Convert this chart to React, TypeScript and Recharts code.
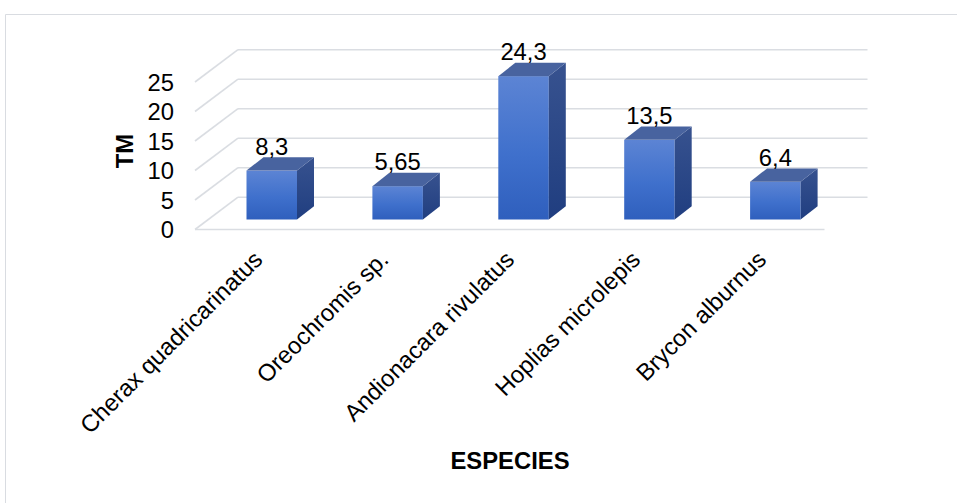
import { BarChart, Bar, XAxis, YAxis, CartesianGrid, LabelList } from "recharts";

const species = [
  "Cherax quadricarinatus",
  "Oreochromis sp.",
  "Andionacara rivulatus",
  "Hoplias microlepis",
  "Brycon alburnus",
];
const tm = [8.3, 5.65, 24.3, 13.5, 6.4];
const yTicks = [0, 5, 10, 15, 20, 25];

const data = species.map((name, i) => ({ name, tm: tm[i] }));

const FONT = "'Liberation Sans', Arial, sans-serif";
const FS = 23.8;
const GRID = "#dadde2";
// plot area: bars sit halfway into the floor
const TOP = 72;
const PLOT_H = 147.5;
const BOTTOM = TOP + PLOT_H;
// 3d offsets relative to the bar plane
const FRONT = { dx: -13.5, dy: 10 };
const BACK = { dx: 29.5, dy: -22.3 };
const DEPTH = { dx: 17, dy: -13.3 };

const fmt = (v: number) => String(v).replace(".", ",");

function gridLine(p: any) {
  const y = p.y1;
  const isFloor = Math.abs(y - BOTTOM) < 1;
  return (
    <g key={p.key ?? `g-${y}`}>
      <line x1={p.x1 + BACK.dx} y1={y + BACK.dy} x2={p.x2 + BACK.dx} y2={y + BACK.dy} stroke={GRID} strokeWidth={1.6} />
      <line x1={p.x1 + FRONT.dx} y1={y + FRONT.dy} x2={p.x1 + BACK.dx} y2={y + BACK.dy} stroke={GRID} strokeWidth={1.6} />
      {isFloor && (
        <line x1={p.x1 + FRONT.dx} y1={y + FRONT.dy} x2={p.x2 + FRONT.dx} y2={y + FRONT.dy} stroke={GRID} strokeWidth={1.6} />
      )}
    </g>
  );
}

function Box(props: any) {
  const { x, y, width, height } = props;
  const { dx, dy } = DEPTH;
  const r = x + width;
  const b = y + height;
  return (
    <g>
      <rect x={x} y={y} width={width} height={height} fill="url(#front)" />
      <polygon points={`${r},${y} ${r + dx},${y + dy} ${r + dx},${b + dy} ${r},${b}`} fill="url(#side)" />
      <polygon points={`${x},${y} ${x + dx},${y + dy} ${r + dx},${y + dy} ${r},${y}`} fill="#48639f" />
    </g>
  );
}

function YTick(props: any) {
  return (
    <text x={174} y={props.y + FRONT.dy} dy="0.36em" textAnchor="end" fontSize={FS} fontFamily={FONT} fill="#000">
      {props.payload.value}
    </text>
  );
}

function XTick(props: any) {
  const x = props.x - 7.5;
  const y = 261;
  return (
    <text x={x} y={y} textAnchor="end" transform={`rotate(-45 ${x} ${y})`} fontSize={FS} fontFamily={FONT} fill="#000">
      {props.payload.value}
    </text>
  );
}

function ValueLabel(props: any) {
  const { x, y, width, value } = props;
  return (
    <text x={x + width / 2} y={y - 16} textAnchor="middle" fontSize={FS} fontFamily={FONT} fill="#000">
      {fmt(value)}
    </text>
  );
}

export default function App() {
  return (
    <div style={{ position: "absolute", left: 0, top: 0, width: 957, height: 503, background: "#fff", overflow: "hidden" }}>
      <svg width={957} height={503} style={{ position: "absolute", left: 0, top: 0 }}>
        <line x1={5.5} y1={14.5} x2={957} y2={14.5} stroke="#d9dce1" strokeWidth={1} />
        <line x1={5.5} y1={14.5} x2={5.5} y2={503} stroke="#d9dce1" strokeWidth={1} />
        <text x={510} y={469} textAnchor="middle" fontSize={FS} fontWeight="bold" fontFamily={FONT} fill="#000">
          ESPECIES
        </text>
        <text x={133} y={151} textAnchor="middle" transform="rotate(-90 133 151)" fontSize={FS} fontWeight="bold" fontFamily={FONT} fill="#000">
          TM
        </text>
      </svg>
      <div style={{ position: "absolute", left: 0, top: 0 }}>
        <BarChart
          width={957}
          height={503}
          data={data}
          margin={{ top: TOP, right: 119, bottom: 503 - BOTTOM - 30, left: 148.5 }}
          barCategoryGap="30%"
        >
          <defs>
            <linearGradient id="front" x1="0" y1="0" x2="0" y2="1">
              <stop offset="0%" stopColor="#5c84d4" />
              <stop offset="55%" stopColor="#3f70cc" />
              <stop offset="100%" stopColor="#2f5fbd" />
            </linearGradient>
            <linearGradient id="side" x1="0" y1="0" x2="0" y2="1">
              <stop offset="0%" stopColor="#37528f" />
              <stop offset="100%" stopColor="#203e80" />
            </linearGradient>
          </defs>
          <CartesianGrid vertical={false} horizontal={gridLine} />
          <XAxis dataKey="name" height={30} axisLine={false} tickLine={false} interval={0} tick={<XTick />} />
          <YAxis width={60} domain={[0, 25]} ticks={yTicks} axisLine={false} tickLine={false} tick={<YTick />} />
          <Bar dataKey="tm" barSize={50.5} shape={<Box />} isAnimationActive={false}>
            <LabelList dataKey="tm" content={<ValueLabel />} />
          </Bar>
        </BarChart>
      </div>
    </div>
  );
}
